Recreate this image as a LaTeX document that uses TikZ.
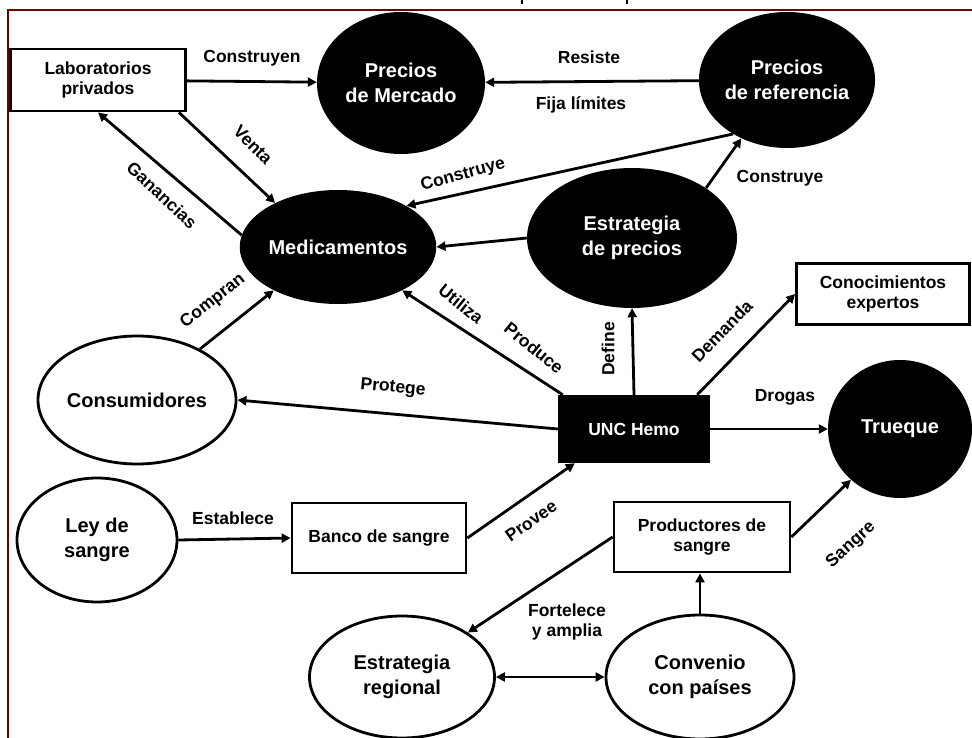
\documentclass[tikz,border=0pt]{standalone}
\usepackage{fontspec}
\setmainfont{Liberation Sans}
\usetikzlibrary{shapes.geometric,arrows.meta}
\definecolor{framered}{RGB}{110,0,0}
\begin{document}
\begin{tikzpicture}[x=1pt,y=-1pt,
 box/.style={draw,line width=2.8pt,rectangle,align=center,inner sep=0pt,font=\fontsize{17.5}{20}\selectfont\bfseries},
 blk/.style={ellipse,fill=black,text=white,align=center,inner sep=0pt,font=\fontsize{20}{24.5}\selectfont\bfseries},
 wht/.style={ellipse,draw,line width=2.8pt,fill=white,align=center,inner sep=0pt,font=\fontsize{20}{24.5}\selectfont\bfseries},
 lbl/.style={font=\fontsize{17.5}{20}\selectfont\bfseries,align=center,inner sep=1pt},
 arr/.style={line width=2.8pt,-{Triangle[length=9pt,width=9pt]}},
 darr/.style={line width=2.8pt,{Triangle[length=9pt,width=9pt]}-{Triangle[length=9pt,width=9pt]}},
]
\useasboundingbox (0,0) rectangle (972,738);
\draw[framered,line width=2pt] (8,738) -- (8,10) -- (972,10);
\draw[line width=1.6pt] (522,0) -- (522,4);
\draw[line width=1.6pt] (627,0) -- (627,4);

% nodes
\node[box,minimum width=175pt,minimum height=62pt] (lab) at (98,80) {Laboratorios\\privados};
\node[blk,minimum width=168pt,minimum height=142pt] (merc) at (401,83) {Precios\\de Mercado};
\node[blk,minimum width=154pt,minimum height=136pt] (ref) at (787,80) {Precios\\de referencia};
\node[blk,minimum width=170pt,minimum height=114pt] (med) at (338,247) {Medicamentos};
\node[blk,minimum width=210pt,minimum height=140pt] (est) at (632,238) {Estrategia\\de precios};
\node[box,minimum width=173pt,minimum height=61pt] (conoc) at (883,294) {Conocimientos\\expertos};
\node[wht,minimum width=168pt,minimum height=128pt] (cons) at (137,400) {Consumidores};
\node[rectangle,fill=black,text=white,minimum width=152pt,minimum height=68pt,inner sep=0pt,font=\fontsize{17.5}{20}\selectfont\bfseries] (unc) at (634,429) {UNC Hemo};
\node[blk,minimum width=144pt,minimum height=138pt] (trueque) at (900,429) {Trueque};
\node[wht,minimum width=160pt,minimum height=124pt] (ley) at (97,540) {Ley de\\sangre};
\node[box,minimum width=174pt,minimum height=70pt] (banco) at (379,538) {Banco de sangre};
\node[box,minimum width=176pt,minimum height=70pt] (prod) at (702,537) {Productores de\\sangre};
\node[wht,minimum width=185pt,minimum height=122pt] (estreg) at (402,677) {Estrategia\\regional};
\node[wht,minimum width=188pt,minimum height=124pt] (conv) at (700,677) {Convenio\\con países};

% connectors
\draw[arr] (lab) -- (merc);
\draw[arr] (ref) -- (merc);
\draw[arr] ([xshift=-8pt]lab.south east) -- (med.145);
\draw[arr] (med.173) -- (lab.south);
\draw[arr] (ref.225) -- (med.31);
\draw[arr] (est.west) -- (med.east);
\draw[arr] (est.34) -- (ref.232);
\draw[arr] (cons.39) -- (med.214);
\draw[arr] ([xshift=5pt]unc.north west) -- (med.-34);
\draw[arr] (unc.west) -- (cons.east);
\draw[arr] (unc.north) -- (est.south);
\draw[arr] ([xshift=-13pt]unc.north east) -- (conoc.west);
\draw[arr] (unc.east) -- (trueque.west);
\draw[arr] (ley.east) -- (banco.west);
\draw[arr] (banco.east) -- ([xshift=17pt]unc.south west);
\draw[arr] (prod.east) -- (trueque.226);
\draw[arr] (prod.west) -- (estreg.34);
\draw[arr] (conv.north) -- (conv.north |- prod.south);
\draw[darr] (estreg.east) -- (conv.west);

% labels
\node[lbl] (l1) at (252,58) {Construyen};
\node[lbl] (l2) at (589,57) {Resiste};
\node[lbl] (l3) at (581,105) {Fija límites};
\node[lbl,rotate=-45] (l4) at (253,145) {Venta};
\node[lbl,rotate=-43] (l5) at (162,195) {Ganancias};
\node[lbl,rotate=15] (l6) at (463,175) {Construye};
\node[lbl] (l7) at (780,178) {Construye};
\node[lbl,rotate=38] (l8) at (213,301) {Compran};
\node[lbl,rotate=-39] (l9) at (461,304) {Utiliza};
\node[lbl,rotate=-39] (l10) at (534,348) {Produce};
\node[lbl,rotate=-5] (l11) at (393,388) {Protege};
\node[lbl,rotate=90] (l12) at (608,349) {Define};
\node[lbl,rotate=46] (l13) at (722,331) {Demanda};
\node[lbl] (l14) at (785,397) {Drogas};
\node[lbl] (l15) at (233,518) {Establece};
\node[lbl,rotate=35] (l16) at (531,521) {Provee};
\node[lbl,rotate=42] (l17) at (851,545) {Sangre};
\node[lbl] (l18) at (567,622) {Fortelece\\y amplia};
\end{tikzpicture}
\end{document}
